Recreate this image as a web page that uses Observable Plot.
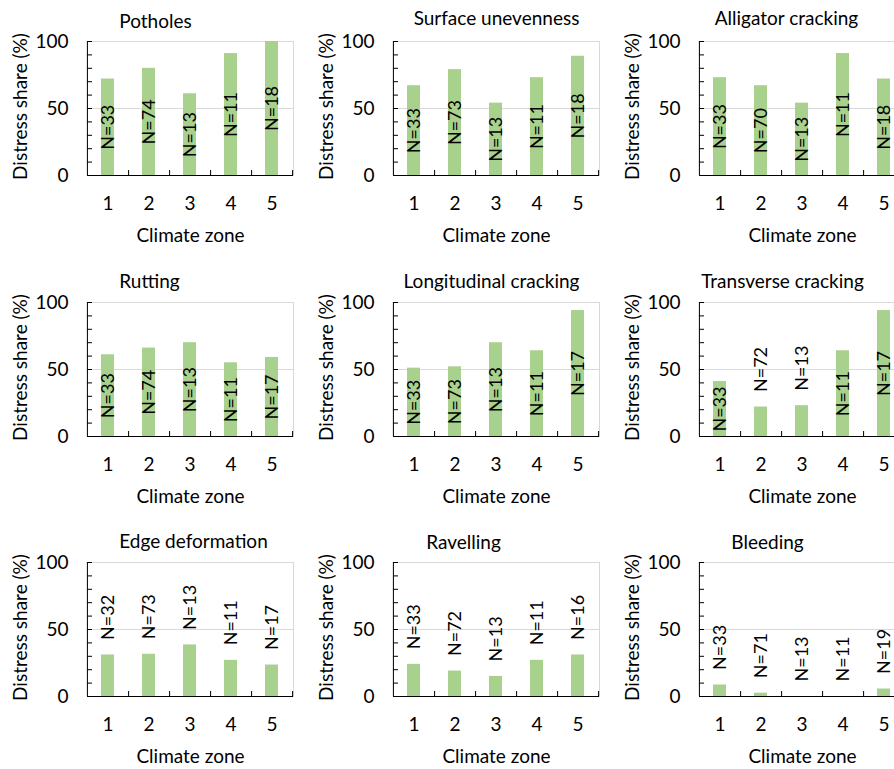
<!DOCTYPE html>
<html><head><meta charset="utf-8">
<script src="https://cdn.jsdelivr.net/npm/d3@7"></script>
<script src="https://cdn.jsdelivr.net/npm/@observablehq/plot@0.6"></script>
<style>
body{margin:0;background:#fff;}
#wrap{position:relative;width:894px;height:769px;overflow:hidden;background:#fff;}
#wrap > div{position:absolute;}
#wrap svg{max-width:none !important;}
</style></head><body><div id="wrap"></div>
<script>
// ---- data ----
const zones = [1, 2, 3, 4, 5];
const distresses = ["Potholes", "Surface unevenness", "Alligator cracking",
  "Rutting", "Longitudinal cracking", "Transverse cracking",
  "Edge deformation", "Ravelling", "Bleeding"];
const potholes      = [72, 80, 61, 91, 100];
const potholesN     = [33, 74, 13, 11, 18];
const unevenness    = [67, 79, 54, 73, 89];
const unevennessN   = [33, 73, 13, 11, 18];
const alligator     = [73, 67, 54, 91, 72];
const alligatorN    = [33, 70, 13, 11, 18];
const rutting       = [61, 66, 70, 55, 59];
const ruttingN      = [33, 74, 13, 11, 17];
const longitudinal  = [51, 52, 70, 64, 94];
const longitudinalN = [33, 73, 13, 11, 17];
const transverse    = [41, 22, 23, 64, 94];
const transverseN   = [33, 72, 13, 11, 17];
const edge          = [31, 31.5, 38.5, 27, 23.5];
const edgeN         = [32, 73, 13, 11, 17];
const ravelling     = [24, 19, 15, 27, 31];
const ravellingN    = [33, 72, 13, 11, 16];
const bleeding      = [8.6, 2.5, 0, 0, 5.6];
const bleedingN     = [33, 71, 13, 11, 19];
const yTicks = [0, 10, 20, 30, 40, 50, 60, 70, 80, 90, 100];
const yLabels = [0, 50, 100];
const shares = [potholes, unevenness, alligator, rutting, longitudinal, transverse, edge, ravelling, bleeding];
const counts = [potholesN, unevennessN, alligatorN, ruttingN, longitudinalN, transverseN, edgeN, ravellingN, bleedingN];

// ---- layout ----
const colLeft = [0, 306, 612];
const rowTop = [0, 261, 521];
const titleShift = [-35, 0, -16, -41, -5, -20, 3, -33, -35];
const titleRaise = [-20, -22.5, -22.5, -20.5, -20.5, -20.5, -20.5, -20, -20];
const mL = 87, mR = 8, mT = 41, mB = 75, W = 301, H = 250;
const pw = W - mL - mR, ph = H - mT - mB;
const step = pw / zones.length;
const green = "#a9d18e", grid = "#d9d9d9";

const wrap = document.getElementById("wrap");
distresses.forEach((name, k) => {
  const rows = zones.map((z, i) => ({zone: z, value: shares[k][i], n: counts[k][i]}));
  const lab = d => `N=${d.n}`;
  const chart = Plot.plot({
    width: W, height: H, marginLeft: mL, marginRight: mR, marginTop: mT, marginBottom: mB,
    style: {fontFamily: "Lato", fontSize: "19px", color: "black", background: "white", overflow: "visible", maxWidth: "none"},
    x: {domain: zones, paddingInner: 0.68, paddingOuter: 0.34, label: null},
    y: {domain: [0, 100], label: null},
    marks: [
      Plot.frame({stroke: grid}),
      Plot.ruleY([50], {stroke: grid}),
      Plot.barY(rows, {x: "zone", y: "value", fill: green}),
      Plot.ruleY(yTicks, {y: d => d, insetRight: pw - 5, stroke: "black"}),
      Plot.ruleX(zones, {x: d => d, dx: step / 2, insetTop: ph - 5, stroke: "black"}),
      Plot.ruleX([zones[0]], {x: d => d, dx: -step / 2, stroke: "black"}),
      Plot.ruleY([0], {stroke: "black"}),
      Plot.axisY({ticks: yLabels, tickSize: 0, tickPadding: 19, label: null}),
      Plot.axisX({tickSize: 0, tickPadding: 21, label: null}),
      Plot.text(rows.filter(d => d.value >= 40), {x: "zone", y: d => d.value / 2, text: lab,
        rotate: -90, textAnchor: "middle", lineAnchor: "middle", fill: "black", fontSize: 18}),
      Plot.text(rows.filter(d => d.value < 40), {x: "zone", y: "value", text: lab,
        rotate: -90, textAnchor: "start", lineAnchor: "middle", dy: -15, fill: "black", fontSize: 18}),
      Plot.text([name], {frameAnchor: "top", dx: titleShift[k], dy: titleRaise[k], textAnchor: "middle", lineAnchor: "middle", fill: "black"}),
      Plot.text(["Climate zone"], {frameAnchor: "bottom", dy: 53, textAnchor: "middle", lineAnchor: "top", fill: "black"}),
      Plot.text(["Distress share (%)"], {frameAnchor: "left", dx: -67, dy: -2, rotate: -90, textAnchor: "middle", lineAnchor: "middle", fill: "black"})
    ]
  });
  const div = document.createElement("div");
  div.style.left = colLeft[k % 3] + "px";
  div.style.top = rowTop[Math.floor(k / 3)] + "px";
  div.style.width = W + "px";
  div.appendChild(chart);
  wrap.appendChild(div);
});
</script></body></html>
